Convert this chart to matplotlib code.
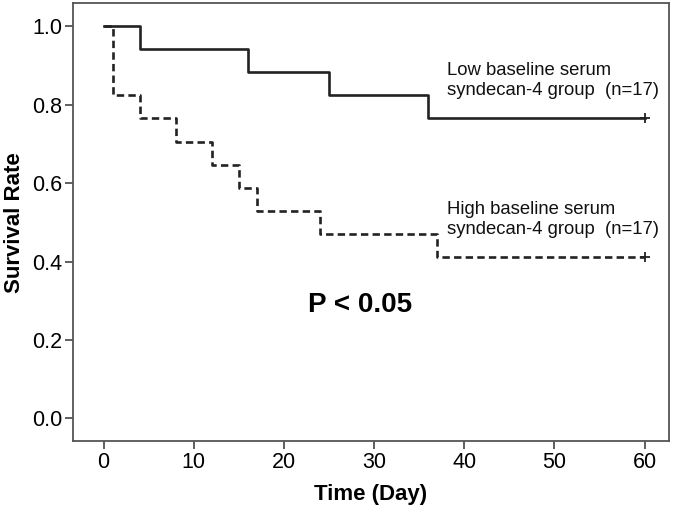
import numpy as np
import matplotlib
matplotlib.use('Agg')
from matplotlib import pyplot as plt

plt.rcParams['font.family'] = ['Liberation Sans', 'DejaVu Sans']

# Kaplan-Meier step data (event times and survival after each step)
low_time = [0, 4, 16, 25, 36, 60]
low_surv = [1.0, 0.941, 0.882, 0.824, 0.765, 0.765]
high_time = [0, 1, 4, 8, 12, 15, 17, 24, 37, 60]
high_surv = [1.0, 0.824, 0.765, 0.706, 0.647, 0.588, 0.529, 0.471, 0.412, 0.412]

x_ticks = [0, 10, 20, 30, 40, 50, 60]
y_ticks = [0.0, 0.2, 0.4, 0.6, 0.8, 1.0]

fig = plt.figure(figsize=(6.75, 5.13), dpi=100)
ax = fig.add_axes([0.108, 0.140, 0.883, 0.854])

# Survival curves
ax.step(low_time, low_surv, where='post', color='#222222', lw=1.9)
ax.step(high_time, high_surv, where='post', color='#222222', lw=1.9,
        linestyle=(0, (2.8, 1.6)))

# Censor marks at end of follow-up
ax.plot([low_time[-1]], [low_surv[-1]], marker='+', color='#222222', ms=7, mew=1.3)
ax.plot([high_time[-1]], [high_surv[-1]], marker='+', color='#222222', ms=7, mew=1.3)

# Group labels
ax.text(38.1, 0.862, 'Low baseline serum\nsyndecan-4 group  (n=17)', fontsize=13.3,
        va='center', ha='left', linespacing=1.25, color='#111111')
ax.text(38.1, 0.507, 'High baseline serum\nsyndecan-4 group  (n=17)', fontsize=13.3,
        va='center', ha='left', linespacing=1.25, color='#111111')
ax.text(28.4, 0.29, 'P < 0.05', fontsize=20, fontweight='bold',
        ha='center', va='center')

ax.set_xlim(-3.4, 62.7)
ax.set_ylim(-0.058, 1.059)
ax.set_xticks(x_ticks)
ax.set_yticks(y_ticks)
ax.set_yticklabels(['%.1f' % v for v in y_ticks])
ax.tick_params(labelsize=15.5, direction='out', length=5.5, width=1.2,
               color='#444444', pad=2)
ax.set_xlabel('Time (Day)', fontsize=16, fontweight='bold', labelpad=8)
ax.set_ylabel('Survival Rate', fontsize=16, fontweight='bold', labelpad=5)

for s in ax.spines.values():
    s.set_color('#555555')
    s.set_linewidth(1.3)

fig.savefig('out.png', dpi=100)
